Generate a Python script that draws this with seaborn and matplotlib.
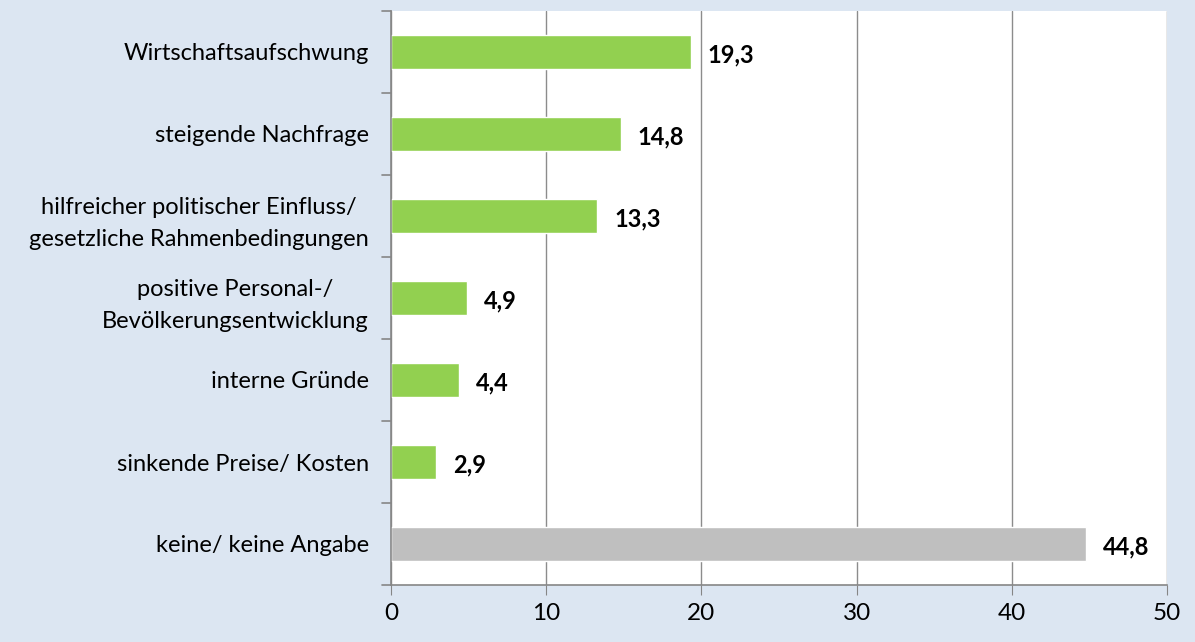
import matplotlib.pyplot as plt
import seaborn as sns
import pandas as pd

categories = ['Wirtschaftsaufschwung',
              'steigende Nachfrage',
              'hilfreicher politischer Einfluss/\ngesetzliche Rahmenbedingungen',
              'positive Personal-/\nBevölkerungsentwicklung',
              'interne Gründe',
              'sinkende Preise/ Kosten',
              'keine/ keine Angabe']
values = [19.3, 14.8, 13.3, 4.9, 4.4, 2.9, 44.8]
bar_colors = ['#92D050'] * 6 + ['#BFBFBF']
x_ticks = [0, 10, 20, 30, 40, 50]

df = pd.DataFrame({'kategorie': categories, 'wert': values})

sns.set_style('white')
plt.rcParams['font.family'] = ['Lato', 'DejaVu Sans']
plt.rcParams['text.color'] = 'black'
plt.rcParams['xtick.labelcolor'] = 'black'
plt.rcParams['ytick.labelcolor'] = 'black'

fig = plt.figure(figsize=(11.95, 6.42), dpi=100, facecolor='#DCE6F2')
ax = fig.add_axes([391 / 1195, 1 - 585 / 642, 776 / 1195, 574 / 642])

sns.barplot(data=df, x='wert', y='kategorie', hue='kategorie',
            palette=bar_colors, legend=False, width=0.41, ax=ax,
            saturation=1)

ax.set_xlim(0, 50)
ax.set_ylim(len(categories) - 0.5, -0.5)
ax.set_xticks(x_ticks)
ax.set_xticklabels([str(t) for t in x_ticks], fontsize=17.5)
ax.set_yticks(range(len(categories)))
ax.set_yticklabels(categories, fontsize=17, linespacing=1.65,
                   multialignment='center')
ax.set_xlabel('')
ax.set_ylabel('')
ax.grid(axis='x', color='#8C8C8C', linewidth=1)
ax.set_axisbelow(True)

for side in ['top', 'right']:
    ax.spines[side].set_visible(False)
ax.spines['left'].set_color('#868686')
ax.spines['bottom'].set_color('#868686')
ax.spines['left'].set_linewidth(1.2)
ax.spines['bottom'].set_linewidth(1.2)

# tick marks between categories on y axis
ax.tick_params(axis='y', length=0, pad=16)
for b in [i - 0.5 for i in range(len(categories) + 1)]:
    ax.plot([-0.012, 0], [b, b], transform=ax.get_yaxis_transform(),
            color='#868686', linewidth=1.2, clip_on=False)
ax.tick_params(axis='x', length=7, color='#868686', pad=6, direction='out',
               bottom=True)

for i, v in enumerate(values):
    ax.text(v + 1.1, i + 0.04, f'{v:.1f}'.replace('.', ','), va='center',
            ha='left', fontsize=17, fontweight='bold')

fig.savefig('out.png', dpi=100, facecolor=fig.get_facecolor())
